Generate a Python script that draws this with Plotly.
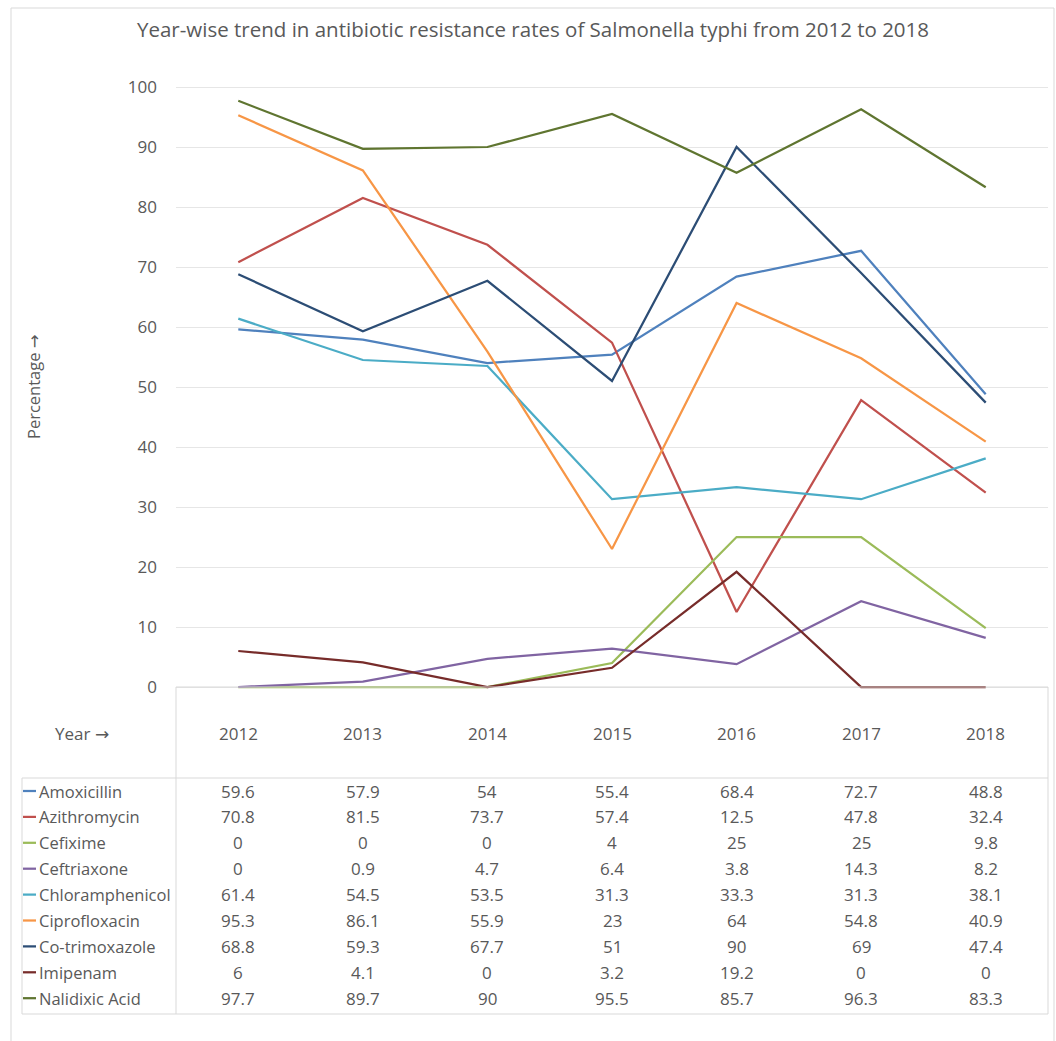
import plotly.graph_objects as go

years = ["2012", "2013", "2014", "2015", "2016", "2017", "2018"]
drugs = ["Amoxicillin", "Azithromycin", "Cefixime", "Ceftriaxone", "Chloramphenicol",
         "Ciprofloxacin", "Co-trimoxazole", "Imipenam", "Nalidixic Acid"]
amoxicillin = [59.6, 57.9, 54, 55.4, 68.4, 72.7, 48.8]
azithromycin = [70.8, 81.5, 73.7, 57.4, 12.5, 47.8, 32.4]
cefixime = [0, 0, 0, 4, 25, 25, 9.8]
ceftriaxone = [0, 0.9, 4.7, 6.4, 3.8, 14.3, 8.2]
chloramphenicol = [61.4, 54.5, 53.5, 31.3, 33.3, 31.3, 38.1]
ciprofloxacin = [95.3, 86.1, 55.9, 23, 64, 54.8, 40.9]
cotrimoxazole = [68.8, 59.3, 67.7, 51, 90, 69, 47.4]
imipenam = [6, 4.1, 0, 3.2, 19.2, 0, 0]
nalidixic = [97.7, 89.7, 90, 95.5, 85.7, 96.3, 83.3]
series = [amoxicillin, azithromycin, cefixime, ceftriaxone, chloramphenicol,
          ciprofloxacin, cotrimoxazole, imipenam, nalidixic]
colors = ["#4F81BD", "#C0504D", "#9BBB59", "#8064A2", "#4BACC6",
          "#F79646", "#2C4D75", "#772C2A", "#5F7530"]

W, H = 1056, 1041
L, R, T, B = 176, 1048, 84, 690
FONT = "Open Sans"
TXT = "#595959"
GRID = "#D9D9D9"
ARROW = '<span style="font-family:DejaVu Sans">\u2192</span>'

def px(x):
    return (x - L) / (R - L)

def py(y):
    return (B - y) / (B - T)

def colx(i):
    return (i + 0.5) / len(years)

fig = go.Figure()
for name, vals, col in zip(drugs, series, colors):
    fig.add_trace(go.Scatter(x=years, y=vals, mode="lines", name=name,
                             line=dict(color=col, width=2.25), showlegend=False))

shapes = []
def line(x0, y0, x1, y1, color=GRID, w=1):
    shapes.append(dict(type="line", xref="paper", yref="paper",
                       x0=px(x0), y0=py(y0), x1=px(x1), y1=py(y1),
                       line=dict(color=color, width=w)))

# outer chart border
line(11, 8, 1054, 8, "#D9D9D9")
line(11, 8, 11, 1045, "#D9D9D9")
line(1054, 8, 1054, 1045, "#D9D9D9")
# data table lines
line(176, 687, 1048, 687)
line(22, 778, 1048, 778)
line(22, 1014, 1048, 1014)
line(22, 778, 22, 1014)
line(176, 687, 176, 1014)
line(1048, 687, 1048, 1014)

annotations = []
# year header
for i, yr in enumerate(years):
    annotations.append(dict(x=colx(i), y=py(733), xref="paper", yref="paper", text=yr,
                            showarrow=False, font=dict(family=FONT, size=17, color=TXT),
                            xanchor="center", yanchor="middle"))
annotations.append(dict(x=px(82), y=py(733), xref="paper", yref="paper", text="Year " + ARROW,
                        showarrow=False, font=dict(family=FONT, size=17, color=TXT),
                        xanchor="center", yanchor="middle"))
row0, step = 791, 25.9
for r, (name, vals, col) in enumerate(zip(drugs, series, colors)):
    yc = row0 + r * step
    line(23, yc, 36, yc, col, 2.25)
    annotations.append(dict(x=px(37), y=py(yc), xref="paper", yref="paper", text=name,
                            showarrow=False, font=dict(family=FONT, size=16.5, color=TXT),
                            xanchor="left", yanchor="middle"))
    for i, v in enumerate(vals):
        annotations.append(dict(x=colx(i), y=py(yc), xref="paper", yref="paper", text=f"{v:g}",
                                showarrow=False, font=dict(family=FONT, size=17, color=TXT),
                                xanchor="center", yanchor="middle"))
# title
annotations.append(dict(x=px(533), y=py(29), xref="paper", yref="paper",
                        text="Year-wise trend in antibiotic resistance rates of Salmonella typhi from 2012 to 2018",
                        showarrow=False, font=dict(family=FONT, size=20.5, color=TXT),
                        xanchor="center", yanchor="middle"))
# y title
annotations.append(dict(x=px(33), y=py(387), xref="paper", yref="paper", text="Percentage " + ARROW,
                        textangle=-90, showarrow=False, font=dict(family=FONT, size=16.5, color=TXT),
                        xanchor="center", yanchor="middle"))

fig.update_layout(
    width=W, height=H,
    margin=dict(l=L, r=W - R, t=T, b=H - B, pad=0),
    paper_bgcolor="white", plot_bgcolor="white",
    shapes=shapes, annotations=annotations,
    xaxis=dict(type="category", range=[-0.5, 6.5], showticklabels=False, showgrid=False,
               zeroline=False, showline=False, ticks=""),
    yaxis=dict(range=[-0.5, 100.5], tickvals=list(range(0, 101, 10)), showgrid=True,
               gridcolor="#E6E6E6", gridwidth=1, zeroline=False, showline=False,
               ticks="", ticklabelstandoff=18,
               tickfont=dict(family=FONT, size=17, color=TXT)),
)
fig.write_html("out.html")
